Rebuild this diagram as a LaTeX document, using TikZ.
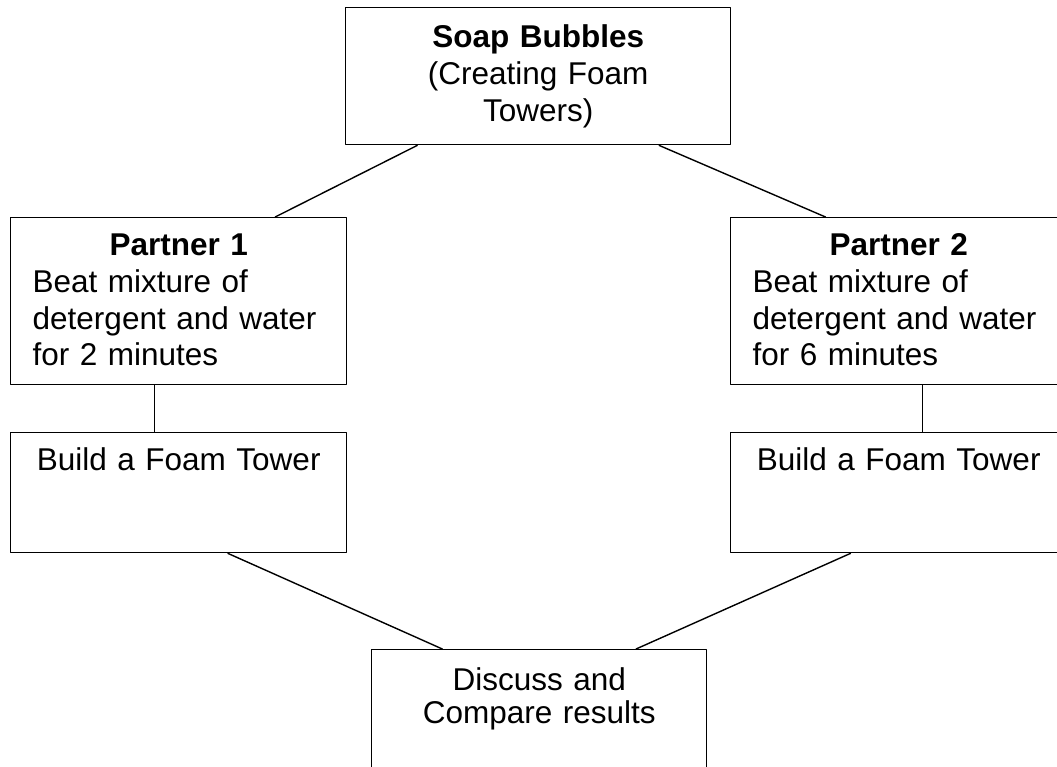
\documentclass[tikz,border=0pt]{standalone}
\usepackage{fontspec}
\setmainfont{Liberation Sans}
\usetikzlibrary{calc}

\begin{document}
\begin{tikzpicture}[line cap=round,line join=round,x=0.5pt,y=0.5pt,
    box/.style={draw,line width=0.7pt,anchor=north west,inner ysep=0pt,inner xsep=11pt,
      font=\fontsize{15.75pt}{18.35pt}\selectfont},
    partnerbox/.style={box,text width=146pt,align=left,text height=19pt,text depth=64.5pt},
    buildbox/.style={box,text width=146pt,align=center,text height=19pt,text depth=41pt},
    link/.style={line width=0.7pt}]
                \useasboundingbox (0,0) rectangle (1057,767);
                \clip (0,0) rectangle (1057,767);
                \node[box,text width=170.5pt,align=center,text height=20pt,text depth=48.5pt] (soap) at (345,760)
                    {\textbf{Soap Bubbles}\\(Creating Foam\\Towers)};
                \node[partnerbox] (partnerA) at (10,550)
                    {\makebox[\linewidth]{\textbf{Partner 1}}\\Beat mixture of\\detergent and water\\for 2 minutes};
                \node[partnerbox] (partnerB) at (730,550)
                    {\makebox[\linewidth]{\textbf{Partner 2}}\\Beat mixture of\\detergent and water\\for 6 minutes};
                \node[buildbox] (buildA) at (10,335) {Build a Foam Tower};
                \node[buildbox] (buildB) at (730,335) {Build a Foam Tower};
                \node[box,text width=145.5pt,align=center,text height=20.5pt,text depth=48pt,
                    font=\fontsize{15.75pt}{16.5pt}\selectfont] (discuss) at (371,118)
                    {Discuss and\\Compare results};
                \draw [link] ($(soap.south west)!0.187!(soap.south east)$) -- ($(partnerA.north west)!0.786!(partnerA.north east)$);
                \draw [link] ($(soap.south west)!0.813!(soap.south east)$) -- ($(partnerB.north west)!0.283!(partnerB.north east)$);
                \draw [link] ($(partnerA.south west)!0.429!(partnerA.south east)$) -- ($(buildA.north west)!0.429!(buildA.north east)$);
                \draw [link] ($(partnerB.south west)!0.571!(partnerB.south east)$) -- ($(buildB.north west)!0.571!(buildB.north east)$);
                \draw [link] ($(buildA.south west)!0.646!(buildA.south east)$) -- ($(discuss.north west)!0.212!(discuss.north east)$);
                \draw [link] ($(buildB.south west)!0.357!(buildB.south east)$) -- ($(discuss.north west)!0.788!(discuss.north east)$);
            \end{tikzpicture}
\end{document}
